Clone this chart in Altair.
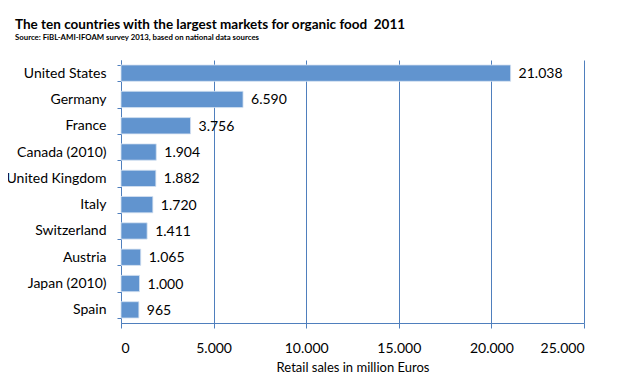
import altair as alt
import pandas as pd

countries = ["United States", "Germany", "France", "Canada (2010)", "United Kingdom",
             "Italy", "Switzerland", "Austria", "Japan (2010)", "Spain"]
sales = [21038, 6590, 3756, 1904, 1882, 1720, 1411, 1065, 1000, 965]
x_ticks = [0, 5000, 10000, 15000, 20000, 25000]

df = pd.DataFrame({"country": countries, "sales": sales})

FONT = "Lato"
GRID = "#4f7fbd"
BAR = "#6194cf"

y_enc = alt.Y("country:N", sort=countries, title=None,
              scale=alt.Scale(paddingInner=0.38, paddingOuter=0.19),
              axis=alt.Axis(labelFont=FONT, labelFontSize=14, labelColor="#000",
                            labelPadding=11, tickSize=4, tickColor=GRID,
                            domainColor=GRID, tickBand="extent", grid=False))
x_enc = alt.X("sales:Q", title="Retail sales in million Euros",
              scale=alt.Scale(domain=[0, 25000], nice=False),
              axis=alt.Axis(values=x_ticks,
                            labelExpr="replace(format(datum.value, ','), ',', '.')",
                            labelFont=FONT, labelFontSize=14, labelColor="#000",
                            labelPadding=13, tickSize=5, tickColor=GRID,
                            domainColor=GRID, gridColor=GRID, gridOpacity=1,
                            titleFont=FONT, titleFontSize=13, titleFontWeight="normal",
                            titleColor="#000", titlePadding=6))

bars = alt.Chart(df).mark_bar(color=BAR, stroke="#d6e2f1", strokeWidth=0.8).encode(
    x=x_enc, y=y_enc)

labels = alt.Chart(df).transform_calculate(
    lab="replace(format(datum.sales, ','), ',', '.')"
).mark_text(align="left", baseline="middle", dx=8, dy=1, font=FONT, fontSize=14,
            color="#000").encode(
    x=alt.X("sales:Q"), y=alt.Y("country:N", sort=countries), text="lab:N")

chart = (bars + labels).properties(
    width=463, height=263,
    autosize=alt.AutoSizeParams(type="none"),
    padding={"left": 113, "top": 52, "right": 34, "bottom": 60},
    title=alt.TitleParams(
        "The ten countries with the largest markets for organic food\u00a0\u00a02011",
        subtitle="Source: FiBL-AMI-IFOAM survey 2013, based on national data sources",
        anchor="start", frame="group", dx=-106, offset=11,
        font=FONT, fontSize=13.5, fontWeight="bold", color="#000",
        subtitleFont=FONT, subtitleFontSize=7.8, subtitleFontWeight="bold",
        subtitleColor="#000", subtitlePadding=3),
).configure_view(stroke=None)

chart.save("out.html", embed_options={"renderer": "svg", "actions": False})
